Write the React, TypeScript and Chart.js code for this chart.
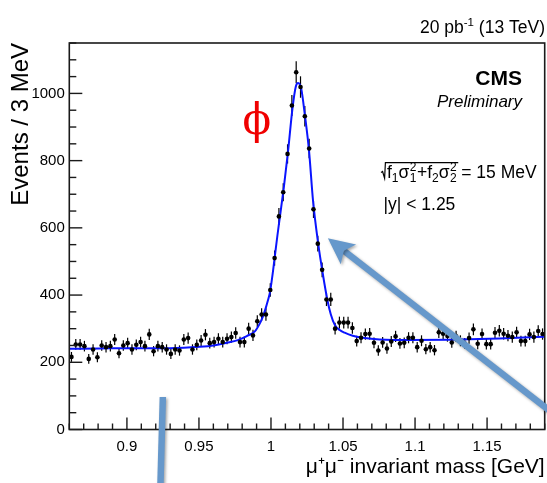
import React, { useEffect, useRef } from "react";
import { Chart, registerables } from "chart.js";

Chart.register(...registerables);

// ---- data ----
const binCenters = [
  0.8615, 0.8645, 0.8675, 0.8705, 0.8735, 0.8765, 0.8795, 0.8825, 0.8855, 0.8885,
  0.8915, 0.8945, 0.8975, 0.9005, 0.9035, 0.9065, 0.9095, 0.9125, 0.9155, 0.9185,
  0.9215, 0.9245, 0.9275, 0.9305, 0.9335, 0.9365, 0.9395, 0.9425, 0.9455, 0.9485,
  0.9515, 0.9545, 0.9575, 0.9605, 0.9635, 0.9665, 0.9695, 0.9725, 0.9755, 0.9785,
  0.9815, 0.9845, 0.9875, 0.9905, 0.9935, 0.9965, 0.9995, 1.0025, 1.0055, 1.0085,
  1.0115, 1.0145, 1.0175, 1.0205, 1.0235, 1.0265, 1.0295, 1.0325, 1.0355, 1.0385,
  1.0415, 1.0445, 1.0475, 1.0505, 1.0535, 1.0565, 1.0595, 1.0625, 1.0655, 1.0685,
  1.0715, 1.0745, 1.0775, 1.0805, 1.0835, 1.0865, 1.0895, 1.0925, 1.0955, 1.0985,
  1.1015, 1.1045, 1.1075, 1.1105, 1.1135, 1.1165, 1.1195, 1.1225, 1.1255, 1.1285,
  1.1315, 1.1345, 1.1375, 1.1405, 1.1435, 1.1465, 1.1495, 1.1525, 1.1555, 1.1585,
  1.1615, 1.1645, 1.1675, 1.1705, 1.1735, 1.1765, 1.1795, 1.1825, 1.1855, 1.1885,
];

const eventCounts = [
  216, 253, 253, 248, 210, 238, 215, 250, 245, 248,
  268, 227, 250, 257, 238, 252, 260, 248, 283, 233,
  248, 245, 238, 225, 238, 235, 268, 272, 238, 252,
  265, 282, 257, 260, 270, 260, 270, 275, 287, 260,
  260, 300, 280, 322, 342, 342, 415, 510, 634, 706,
  820, 964, 1063, 1019, 932, 836, 655, 553, 475, 387,
  387, 300, 318, 318, 318, 302, 263, 273, 284, 285,
  258, 235, 259, 241, 262, 277, 256, 258, 273, 273,
  245, 264, 239, 245, 236, 289, 285, 278, 259, 277,
  264, 256, 272, 298, 255, 284, 254, 254, 288, 294,
  285, 279, 275, 289, 263, 263, 283, 275, 293, 284,
];

const fitMass = [
  0.86, 0.8813, 0.9, 0.9298, 0.9506, 0.961, 0.9694, 0.977, 0.9832, 0.9888,
  0.9922, 0.9943, 0.9964, 0.9978, 0.9992, 1.0009, 1.0026, 1.0044, 1.0061, 1.0089,
  1.0119, 1.0149, 1.0172, 1.0188, 1.02, 1.0211, 1.0234, 1.0264, 1.0292, 1.0327,
  1.0359, 1.0394, 1.0415, 1.0442, 1.0477, 1.0511, 1.0567, 1.065, 1.0754, 1.0962,
  1.1239, 1.1586, 1.19,
];

const fitEvents = [
  240, 241, 242, 242, 246, 251, 258, 266, 278, 292,
  315, 335, 362, 383, 406, 455, 513, 575, 630, 720,
  830, 955, 1020, 1031, 1027, 1012, 940, 830, 680, 555,
  465, 380, 343, 312, 296, 288, 279, 272, 268, 266,
  267, 271, 276,
];

const xTickValues = [0.9, 0.95, 1.0, 1.05, 1.1, 1.15];
const xTickLabels = ["0.9", "0.95", "1", "1.05", "1.1", "1.15"];
const yTickValues = [0, 200, 400, 600, 800, 1000];
const yTickLabels = ["0", "200", "400", "600", "800", "1000"];

const SANS = "'Liberation Sans', Arial, Helvetica, sans-serif";
const ARROW = "#6698CB";

export default function App() {
  const ref = useRef<HTMLCanvasElement>(null);

  useEffect(() => {
    const canvas = ref.current;
    if (!canvas) return;

    const points = binCenters.map((m, i) => ({ x: m, y: eventCounts[i] }));
    const fit = fitMass.map((m, i) => ({ x: m, y: fitEvents[i] }));

    const errorBars = {
      id: "errorBars",
      beforeDatasetsDraw(chart: any) {
        const { ctx } = chart;
        const xs = chart.scales.x;
        const ys = chart.scales.y;
        ctx.save();
        ctx.strokeStyle = "#000";
        ctx.lineWidth = 1.2;
        for (let i = 0; i < binCenters.length; i++) {
          const v = eventCounts[i];
          const e = Math.sqrt(v);
          const px = xs.getPixelForValue(binCenters[i]);
          ctx.beginPath();
          ctx.moveTo(px, ys.getPixelForValue(v - e));
          ctx.lineTo(px, ys.getPixelForValue(v + e));
          ctx.stroke();
        }
        ctx.restore();
      },
    };

    const frame = {
      id: "rootFrame",
      afterDatasetsDraw(chart: any) {
        const { ctx, chartArea } = chart;
        const { left, right, top, bottom } = chartArea;
        const xs = chart.scales.x;
        const ys = chart.scales.y;
        ctx.save();
        ctx.strokeStyle = "#1a1a1a";
        ctx.lineWidth = 1.4;
        // x ticks every 0.01, majors every 0.05
        for (let i = 86; i <= 119; i++) {
          const px = xs.getPixelForValue(i / 100);
          const len = i % 5 === 0 ? 12 : 6;
          ctx.beginPath();
          ctx.moveTo(px, bottom);
          ctx.lineTo(px, bottom - len);
          ctx.stroke();
        }
        // y ticks every 50, majors every 200
        for (let v = 0; v <= 1150; v += 50) {
          const py = ys.getPixelForValue(v);
          const len = v % 200 === 0 ? 13 : 7;
          ctx.beginPath();
          ctx.moveTo(left, py);
          ctx.lineTo(left + len, py);
          ctx.stroke();
        }
        ctx.lineWidth = 1.6;
        ctx.strokeRect(left, top, right - left, bottom - top);
        ctx.restore();
      },
    };

    const annotations = {
      id: "annotations",
      afterDraw(chart: any) {
        const { ctx } = chart;
        const xs = chart.scales.x;
        const ys = chart.scales.y;
        ctx.save();
        ctx.fillStyle = "#000";
        ctx.textBaseline = "alphabetic";
        ctx.textAlign = "left";

        // luminosity label
        const lumBig = `17.5px ${SANS}`;
        const lumSmall = `11.5px ${SANS}`;
        ctx.font = lumBig;
        const wA = ctx.measureText("20 pb").width;
        const wC = ctx.measureText(" (13 TeV)").width;
        ctx.font = lumSmall;
        const wB = ctx.measureText("-1").width;
        let lx = 545 - (wA + wB + wC);
        ctx.font = lumBig;
        ctx.fillText("20 pb", lx, 33);
        lx += wA;
        ctx.font = lumSmall;
        ctx.fillText("-1", lx, 26);
        lx += wB;
        ctx.font = lumBig;
        ctx.fillText(" (13 TeV)", lx, 33);

        // CMS Preliminary
        ctx.textAlign = "right";
        ctx.font = `bold 21px ${SANS}`;
        ctx.fillText("CMS", 522, 85);
        ctx.font = `italic 17px ${SANS}`;
        ctx.fillText("Preliminary", 522, 107);

        // phi symbol
        ctx.textAlign = "center";
        ctx.textBaseline = "middle";
        ctx.fillStyle = "#f00000";
        ctx.font = `42px 'DejaVu Serif', serif`;
        ctx.fillText("ϕ", xs.getPixelForValue(0.9901), ys.getPixelForValue(912));

        // resolution formula
        const big = `17.5px ${SANS}`;
        const small = `12px ${SANS}`;
        ctx.fillStyle = "#000";
        ctx.strokeStyle = "#000";
        ctx.textAlign = "left";
        ctx.textBaseline = "alphabetic";
        const base = 177.5;
        let cx = 387;
        const put = (t: string, font: string, dy: number) => {
          ctx.font = font;
          ctx.fillText(t, cx, base + dy);
          return ctx.measureText(t).width;
        };
        cx += put("f", big, 0);
        cx += put("1", small, 4);
        cx += put("σ", big, 0) + 0.5;
        const s1 = put("2", small, -7);
        put("1", small, 4);
        cx += s1 + 0.5;
        cx += put("+f", big, 0);
        cx += put("2", small, 4);
        cx += put("σ", big, 0) + 0.5;
        const s2 = put("2", small, -7);
        put("2", small, 4);
        cx += s2 + 1.5;
        ctx.lineWidth = 1.2;
        ctx.beginPath();
        ctx.moveTo(381, 172.5);
        ctx.lineTo(382.6, 171.5);
        ctx.lineTo(384.6, 178.3);
        ctx.lineTo(385.4, 162.6);
        ctx.lineTo(cx, 162.6);
        ctx.stroke();
        cx += 3;
        put("= 15 MeV", big, 0);
        ctx.font = big;
        ctx.fillText("|y| < 1.25", 383.5, 210);

        // overlaid arrows
        ctx.strokeStyle = ARROW;
        ctx.fillStyle = ARROW;
        ctx.shadowColor = "rgba(0,0,0,0.35)";
        ctx.shadowBlur = 3;
        ctx.shadowOffsetX = 1.5;
        ctx.shadowOffsetY = 1.5;
        ctx.lineWidth = 6.5;
        ctx.lineCap = "butt";
        ctx.beginPath();
        ctx.moveTo(xs.getPixelForValue(0.92493), ys.getPixelForValue(96.7));
        ctx.lineTo(xs.getPixelForValue(0.9232), ys.getPixelForValue(-174));
        ctx.stroke();

        const tx = xs.getPixelForValue(1.03949);
        const ty = ys.getPixelForValue(568.9);
        const sx = xs.getPixelForValue(1.20352);
        const sy = ys.getPixelForValue(22.3);
        const dx = tx - sx;
        const dy = ty - sy;
        const d = Math.hypot(dx, dy);
        const ux = dx / d;
        const uy = dy / d;
        const L = 26;
        const W = 12.5;
        const bx = tx - ux * L;
        const by = ty - uy * L;
        const nx = tx - ux * L * 0.78;
        const ny = ty - uy * L * 0.78;
        ctx.beginPath();
        ctx.moveTo(sx, sy);
        ctx.lineTo(nx, ny);
        ctx.stroke();
        ctx.beginPath();
        ctx.moveTo(tx, ty);
        ctx.lineTo(bx - uy * W, by + ux * W);
        ctx.lineTo(nx, ny);
        ctx.lineTo(bx + uy * W, by - ux * W);
        ctx.closePath();
        ctx.fill();
        ctx.restore();
      },
    };

    const chart = new Chart(canvas, {
      type: "scatter",
      data: {
        datasets: [
          {
            label: "data",
            data: points,
            showLine: false,
            pointRadius: 2.3,
            pointBackgroundColor: "#000",
            pointBorderWidth: 0,
            pointHoverRadius: 2.3,
          },
          {
            label: "fit",
            data: fit,
            showLine: true,
            pointRadius: 0,
            borderColor: "#0a14ff",
            borderWidth: 2,
            cubicInterpolationMode: "monotone",
            fill: false,
          } as any,
        ],
      },
      options: {
        animation: false,
        responsive: false,
        devicePixelRatio: 1,
        events: [],
        layout: { padding: { left: 0, right: 1.5, top: 43, bottom: 0 } },
        plugins: { legend: { display: false }, tooltip: { enabled: false } },
        scales: {
          x: {
            type: "linear",
            min: 0.86,
            max: 1.19,
            grid: { display: false, drawTicks: false },
            border: { display: false },
            afterBuildTicks: (s: any) => {
              s.ticks = xTickValues.map((v) => ({ value: v }));
            },
            afterFit: (s: any) => {
              s.height = 53.5;
            },
            ticks: {
              autoSkip: false,
              maxRotation: 0,
              padding: 8,
              color: "#000",
              font: { family: SANS, size: 15 },
              callback: (_v: any, i: number) => xTickLabels[i],
            },
            title: {
              display: true,
              text: "μ⁺μ⁻ invariant mass [GeV]",
              align: "end",
              color: "#000",
              font: { family: SANS, size: 21 },
              padding: { top: 0, bottom: 3.4 },
            },
          },
          y: {
            type: "linear",
            min: 0,
            max: 1150,
            grid: { display: false, drawTicks: false },
            border: { display: false },
            afterBuildTicks: (s: any) => {
              s.ticks = yTickValues.map((v) => ({ value: v }));
            },
            afterFit: (s: any) => {
              s.width = 69.3;
            },
            ticks: {
              autoSkip: false,
              padding: 4.5,
              color: "#000",
              font: { family: SANS, size: 15 },
              callback: (_v: any, i: number) => yTickLabels[i],
            },
            title: {
              display: true,
              text: "Events / 3 MeV",
              align: "end",
              color: "#000",
              font: { family: SANS, size: 24 },
              padding: { top: 7, bottom: 0 },
            },
          },
        },
      } as any,
      plugins: [errorBars, frame, annotations],
    });

    return () => chart.destroy();
  }, []);

  return (
    <div
      style={{
        position: "fixed",
        left: 0,
        top: 0,
        width: 547,
        height: 483,
        background: "#fff",
      }}
    >
      <canvas
        ref={ref}
        width={547}
        height={483}
        style={{ width: 547, height: 483, display: "block" }}
      />
    </div>
  );
}
